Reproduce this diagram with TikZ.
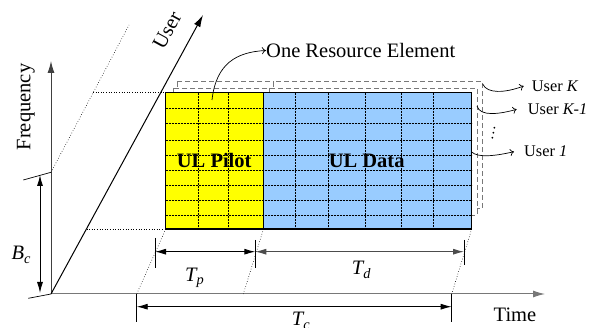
\documentclass[tikz,border=0pt]{standalone}
\usepackage{fontspec}
\setmainfont{Liberation Serif}
\usetikzlibrary{arrows.meta}
\definecolor{pilotyellow}{RGB}{255,255,0}
\definecolor{datablue}{RGB}{153,204,255}
\definecolor{axisgray}{RGB}{120,120,120}
\tikzset{
  bigtxt/.style={font=\fontsize{20.5}{24}\selectfont, inner sep=0pt},
  smalltxt/.style={font=\fontsize{16.3}{19}\selectfont, inner sep=0pt},
  boldtxt/.style={font=\fontsize{20.5}{24}\selectfont\bfseries, inner sep=0pt},
  dimarrow/.style={line width=0.9pt, {Latex[length=11pt,width=6pt]}-{Latex[length=11pt,width=6pt]}},
  axisarrow/.style={line width=1pt, -{Latex[length=12pt,width=7pt]}},
  ticklin/.style={line width=0.7pt},
  dotlin/.style={line width=0.6pt, dotted},
  gridlin/.style={line width=0.6pt, dash pattern=on 2pt off 1pt},
  backlayer/.style={draw=axisgray, fill=white, line width=0.8pt, dash pattern=on 5pt off 3pt},
  curvearrow/.style={line width=0.7pt, -{To[length=4pt,width=7pt]}},
}
\begin{document}
\begin{tikzpicture}[x=1pt,y=-1pt]
\useasboundingbox (0,0) rectangle (597,328);

% coordinates
\coordinate (O) at (51,294);
\coordinate (Fend) at (51,61);
\coordinate (Uend) at (203,15);
\coordinate (Tend) at (545,294);
\coordinate (Bup) at (51,172.3);
\coordinate (Bupl) at (23.3,180);
\coordinate (Olow) at (28.3,298.3);
\coordinate (Dtop) at (129,25);

% back layers (User K, User K-1)
\draw[backlayer] (177,81.7) rectangle (273.3,208);
\draw[backlayer] (273.3,81.7) rectangle (482.7,208);
\draw[backlayer] (173.3,88) rectangle (269.3,215);
\draw[backlayer] (269.3,88) rectangle (477,215);

% front layer (User 1)
\fill[pilotyellow] (165.7,92.7) rectangle (263.5,229);
\fill[datablue] (263.5,92.7) rectangle (471.7,229);
\foreach \yy in {108.3,123.3,140,155,170,185.7,200.7,215.7}
  \draw[gridlin] (165.7,\yy) -- (471.7,\yy);
\foreach \xx in {198,228.3,295,328.3,365.7,401,433.7}
  \draw[gridlin] (\xx,92.7) -- (\xx,229);
\draw[line width=1.2pt] (165.7,92.7) rectangle (471.7,229);
\draw[line width=1.2pt] (263.5,92.7) -- (263.5,229);
\node[boldtxt] (pilot) at (214.2,160.5) {UL Pilot};
\node[boldtxt] (data) at (366.7,161) {UL Data};

% axes
\draw[axisarrow, draw=axisgray] (O) -- (Tend);
\draw[axisarrow, draw=black!75] (O) -- (Fend);
\draw[axisarrow] (O) -- (Uend);
\node[bigtxt, rotate=61.4] (userlab) at (167,30) {User};
\node[bigtxt, rotate=90] (freqlab) at (26,107) {Frequency};
\node[bigtxt] (timelab) at (515,315) {Time};

% frequency ticks and Bc
\draw[ticklin] (Bupl) -- (Bup);
\draw[ticklin] (Olow) -- (O);
\coordinate (Bca) at (40,175);
\coordinate (Bcb) at (40,293);
\draw[dimarrow] (Bca) -- (Bcb);
\node[bigtxt, anchor=base west] (bc) at (11.5,260) {\itshape B\textsubscript{c}};

% dotted guides
\draw[dotlin] (Bup) -- (Dtop);
\draw[dotlin] (93,92.7) -- (165.7,92.7);
\draw[dotlin] (86.5,229) -- (165.7,229);
\draw[dotlin] (165.7,229) -- (136.7,294);
\draw[dotlin] (263.5,229) -- (243.3,294);
\draw[dotlin] (471.7,229) -- (451.7,294);

% Tp, Td
\draw[ticklin] (155,238) -- (155,268);
\draw[ticklin] (255.3,240) -- (255.3,268);
\draw[ticklin] (464,240) -- (464,265);
\coordinate (tpa) at (155,251.7);
\coordinate (tpb) at (255.3,251.7);
\coordinate (tdb) at (464,251.7);
\draw[dimarrow] (tpa) -- (tpb);
\draw[dimarrow, draw=black!70] (tpb) -- (tdb);
\node[bigtxt, anchor=base west] (tp) at (185,281.7) {\itshape T\textsubscript{p}};
\node[bigtxt, anchor=base west] (td) at (351.7,275) {\itshape T\textsubscript{d}};

% Tc
\draw[ticklin] (136.7,294) -- (136.7,322);
\draw[ticklin] (451.7,294) -- (451.7,322);
\coordinate (tca) at (136.7,306.7);
\coordinate (tcb) at (451.7,306.7);
\draw[dimarrow] (tca) -- (tcb);
\node[bigtxt, anchor=base west] (tc) at (291.7,326) {\itshape T\textsubscript{c}};

% labels and curved arrows
\node[bigtxt, anchor=base west] (re) at (266,57.5) {One Resource Element};
\coordinate (reS) at (212,100);
\draw[curvearrow] (reS) .. controls (216,64) and (236,52) .. (re.west);

\node[smalltxt, anchor=west] (uK) at (531.7,86) {User \textit{K}};
\node[smalltxt, anchor=west] (uK1) at (527.7,109.3) {User \textit{K-1}};
\node[smalltxt, anchor=west] (u1) at (524,151.7) {User \textit{1}};
\coordinate (sK) at (482.7,84);
\coordinate (sK1) at (477,106);
\coordinate (s1) at (471.7,152);
\draw[curvearrow] (sK) .. controls (487,94) and (505,93) .. ([xshift=-8pt]uK.west);
\draw[curvearrow] (sK1) .. controls (480,117) and (500,114) .. ([xshift=-11pt]uK1.west);
\draw[curvearrow] (s1) .. controls (478,158) and (495,156) .. ([xshift=-10pt]u1.west);

\fill (494.3,127.7) circle (1pt);
\fill (493.3,132.7) circle (1pt);
\fill (492.3,137.7) circle (1pt);
\end{tikzpicture}
\end{document}
